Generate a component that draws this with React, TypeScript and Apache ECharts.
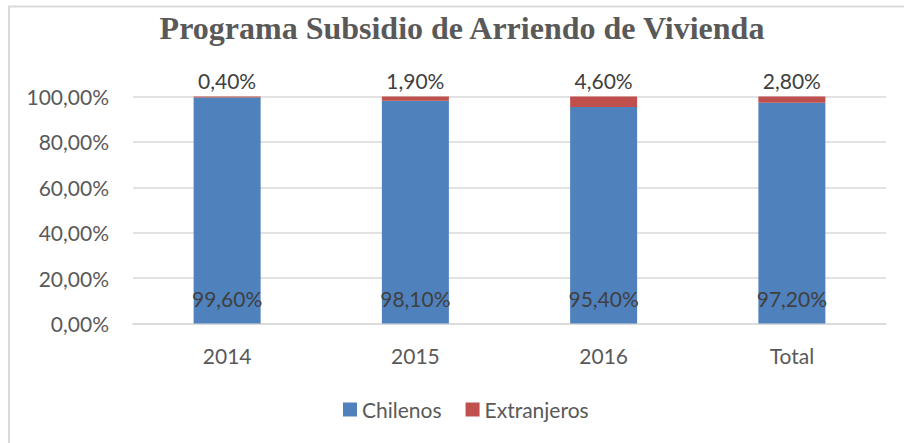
import React, { useEffect, useRef } from "react";
import * as echarts from "echarts";

const categories = ["2014", "2015", "2016", "Total"];
const chilenos = [99.6, 98.1, 95.4, 97.2];
const extranjeros = [0.4, 1.9, 4.6, 2.8];
const yTicks = { min: 0, max: 100, interval: 20 };

const fmt = (v: number) => v.toFixed(2).replace(".", ",") + "%";

export default function App() {
  const ref = useRef<HTMLDivElement>(null);
  useEffect(() => {
    if (!ref.current) return;
    const chart = echarts.init(ref.current, null, { renderer: "svg" });
    const font = "Lato";
    chart.setOption({
      animation: false,
      backgroundColor: "#ffffff",
      textStyle: { fontFamily: font },
      graphic: [
        {
          type: "rect",
          shape: { x: 9, y: 6.5, width: 1000, height: 1000 },
          style: { fill: "none", stroke: "#D9D9D9", lineWidth: 2 },
          silent: true,
        },
        {
          type: "text",
          x: 462,
          y: 12,
          style: {
            text: "Programa Subsidio de Arriendo de Vivienda",
            font: "bold 32px 'Liberation Serif', 'Times New Roman', serif",
            fill: "#595959",
            textAlign: "center",
            textVerticalAlign: "top",
          },
        },
      ],
      legend: {
        left: 338,
        top: 394,
        itemWidth: 14,
        itemHeight: 14,
        itemGap: 24,
        icon: "rect",
        textStyle: { fontFamily: font, fontSize: 21, color: "#595959", padding: [0, 0, 0, 0] },
        data: ["Chilenos", "Extranjeros"],
      },
      grid: { left: 133, right: 18, top: 96.5, bottom: 119.5, containLabel: false },
      xAxis: {
        type: "category",
        data: categories,
        axisLine: { show: true, lineStyle: { color: "#D9D9D9", width: 1.5 } },
        axisTick: { show: false },
        axisLabel: { fontFamily: font, fontSize: 21, color: "#595959", margin: 21 },
      },
      yAxis: {
        type: "value",
        min: yTicks.min,
        max: yTicks.max,
        interval: yTicks.interval,
        axisLine: { show: false },
        axisTick: { show: false },
        splitLine: { lineStyle: { color: "#D9D9D9", width: 1.5 } },
        axisLabel: {
          fontFamily: font,
          fontSize: 21,
          color: "#595959",
          margin: 24,
          formatter: (v: number) => fmt(v),
        },
      },
      series: [
        {
          name: "Chilenos",
          type: "bar",
          stack: "total",
          barWidth: 67,
          data: chilenos,
          itemStyle: { color: "#4F81BD" },
          label: {
            show: true,
            position: "insideBottom",
            distance: 15,
            fontFamily: font,
            fontSize: 21,
            color: "#404040",
            formatter: (p: any) => fmt(p.value),
          },
        },
        {
          name: "Extranjeros",
          type: "bar",
          stack: "total",
          barWidth: 67,
          data: extranjeros,
          itemStyle: { color: "#C0504D" },
          label: {
            show: true,
            position: "top",
            distance: 6,
            fontFamily: font,
            fontSize: 21,
            color: "#404040",
            formatter: (p: any) => fmt(p.value),
          },
        },
      ],
    });
    return () => chart.dispose();
  }, []);
  return (
    <div
      ref={ref}
      style={{ position: "absolute", left: 0, top: 0, width: 904, height: 443 }}
    />
  );
}
